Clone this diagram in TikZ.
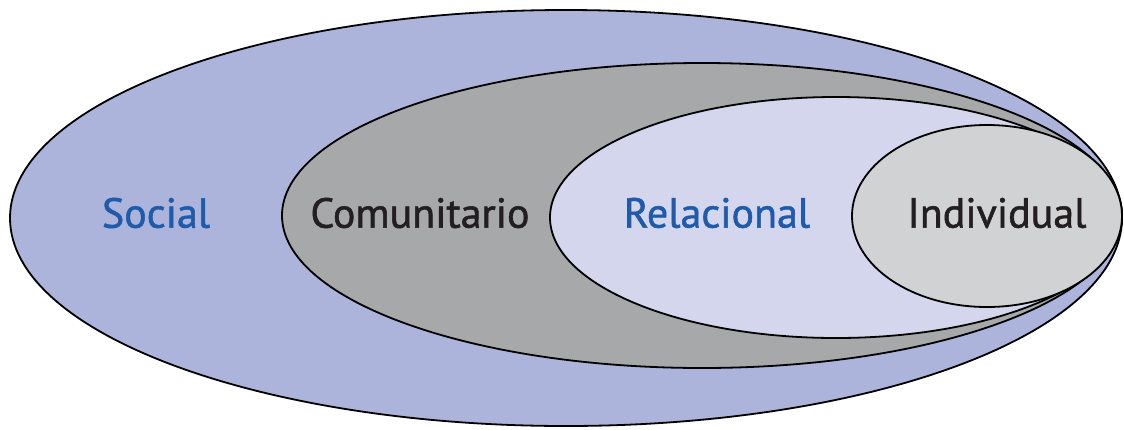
\documentclass[tikz,border=0pt]{standalone}
\usepackage{fontspec}
\setmainfont{PT Sans}
\newfontfamily\lblfont{PT Sans}[FakeBold=1.3]
\definecolor{socialfill}{HTML}{ACB4DB}
\definecolor{comfill}{HTML}{A7A8AA}
\definecolor{relfill}{HTML}{D4D6EE}
\definecolor{indfill}{HTML}{D1D2D3}
\definecolor{bluetext}{HTML}{1F5BAA}
\definecolor{darktext}{HTML}{231F20}
\begin{document}
\begin{tikzpicture}[x=1pt,y=-1pt,
  ring/.style={draw=black,line width=1.8pt},
  lbl/.style={font=\lblfont\fontsize{42}{48}\selectfont, inner sep=0pt, anchor=center}]
\useasboundingbox (0,0) rectangle (1124,429);
\path[ring,fill=socialfill] (566,218) ellipse [x radius=556, y radius=208];
\path[ring,fill=comfill] (702,215.5) ellipse [x radius=420, y radius=152.5];
\path[ring,fill=relfill] (836,217.5) ellipse [x radius=286, y radius=120.5];
\path[ring,fill=indfill] (987,216) ellipse [x radius=135, y radius=91];
\node[lbl,text=bluetext] (social) at (156,213) {Social};
\node[lbl,text=darktext] (com) at (420,213) {Comunitario};
\node[lbl,text=bluetext] (rel) at (717,213) {Relacional};
\node[lbl,text=darktext] (ind) at (997,213) {Individual};
\end{tikzpicture}
\end{document}
